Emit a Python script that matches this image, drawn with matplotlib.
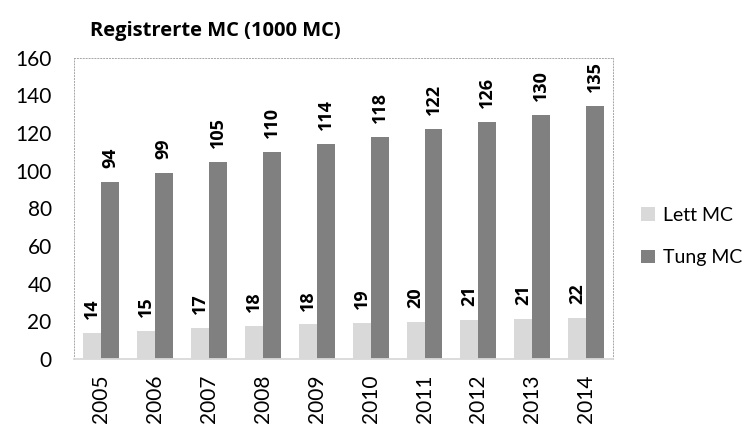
import matplotlib

matplotlib.use("Agg")
import matplotlib.pyplot as plt
import numpy as np

years = ["2005", "2006", "2007", "2008", "2009", "2010", "2011", "2012", "2013", "2014"]
lett_mc = [13.8, 15.0, 16.6, 17.8, 18.4, 19.1, 19.8, 20.6, 21.3, 22.1]
tung_mc = [94.2, 98.8, 104.6, 110.0, 114.3, 118.2, 122.0, 125.9, 129.8, 134.6]

plt.rcParams["font.family"] = ["Lato", "DejaVu Sans"]
BOLD = ["Open Sans", "DejaVu Sans"]

fig = plt.figure(figsize=(7.47, 4.25), dpi=100)
ax = fig.add_axes([0.099, 0.155, 0.722, 0.709])

x = np.arange(len(years))
w = 0.333
b1 = ax.bar(x - w / 2, lett_mc, w, color="#d9d9d9", label="Lett MC")
b2 = ax.bar(x + w / 2, tung_mc, w, color="#808080", label="Tung MC")

for bars in (b1, b2):
    for r in bars:
        ax.annotate(f"{r.get_height():.0f}", (r.get_x() + r.get_width() / 2, r.get_height()),
                    xytext=(0, 10), textcoords="offset points", rotation=90,
                    ha="center", va="bottom", fontsize=13, fontweight="bold",
                    family=BOLD)

ax.set_xlim(-0.5, len(years) - 0.5)
ax.set_ylim(0, 160)
ax.set_yticks(range(0, 161, 20))
ax.set_xticks(x)
ax.set_xticklabels(years, rotation=90)
ax.tick_params(length=0, labelsize=15)
ax.tick_params(axis="y", pad=16)
ax.tick_params(axis="x", pad=11)

for side in ("left", "top", "right"):
    ax.spines[side].set_linestyle((0, (1, 2)))
    ax.spines[side].set_color("#a6a6a6")
    ax.spines[side].set_linewidth(0.7)
ax.spines["bottom"].set_color("#d9d9d9")
ax.spines["bottom"].set_linewidth(1.3)

fig.text(0.12, 0.928, "Registrerte MC (1000 MC)", fontsize=14.5, fontweight="bold",
         family=BOLD, ha="left", va="center")

fig.legend(loc="center left", bbox_to_anchor=(0.835, 0.443), frameon=False,
           fontsize=14, handlelength=0.7, handleheight=0.7, handletextpad=0.4,
           labelspacing=1.3)

fig.savefig("out.png", dpi=100)
